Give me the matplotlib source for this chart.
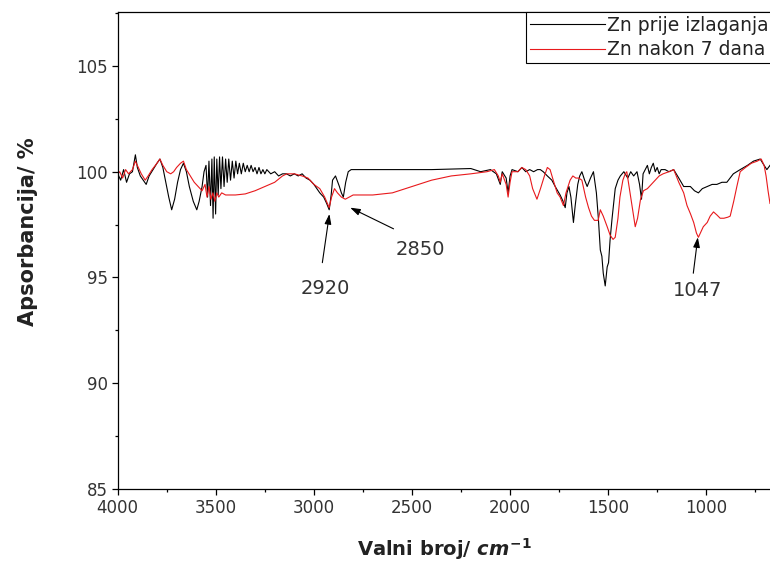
"""FTIR spectra of Zn before and after 7 days of exposure."""
import matplotlib
matplotlib.use("Agg")
import matplotlib.pyplot as plt
from matplotlib.ticker import MultipleLocator

plt.rcParams["font.family"] = ["DejaVu Sans"]
plt.rcParams["mathtext.fontset"] = "custom"
plt.rcParams["mathtext.rm"] = "DejaVu Sans:bold"
plt.rcParams["mathtext.it"] = "DejaVu Sans:italic:bold"

# Zn prije izlaganja (black)
wn_before = [
    4000, 3985, 3970, 3955, 3940, 3925, 3910, 3900, 3885, 3870, 3855, 3840,
    3820, 3800, 3785, 3770, 3755, 3740, 3725, 3710, 3695, 3680, 3665, 3650,
    3635, 3615, 3597, 3585, 3570, 3560, 3550, 3542, 3535, 3527, 3520, 3514,
    3508, 3501, 3495, 3488, 3481, 3474, 3466, 3458, 3450, 3442, 3434, 3425,
    3416, 3407, 3398, 3389, 3380, 3370, 3360, 3350, 3340, 3330, 3320, 3310,
    3300, 3290, 3280, 3270, 3260, 3250, 3240, 3220, 3200, 3180, 3160, 3140,
    3120, 3100, 3080, 3060, 3040, 3020, 3000, 2985, 2970, 2950, 2935, 2922,
    2912, 2905, 2890, 2870, 2860, 2850, 2838, 2825, 2810, 2600, 2400, 2200,
    2150, 2100, 2070, 2050, 2040, 2020, 2010, 2000, 1990, 1960, 1940, 1920,
    1900, 1880, 1860, 1846, 1831, 1810, 1787, 1770, 1745, 1730, 1719, 1710,
    1700, 1690, 1677, 1668, 1655, 1645, 1634, 1620, 1607, 1590, 1575, 1560,
    1550, 1540, 1532, 1525, 1515, 1505, 1498, 1490, 1480, 1464, 1450, 1438,
    1420, 1400, 1385, 1370, 1353, 1340, 1330, 1322, 1311, 1300, 1290, 1280,
    1270, 1260, 1250, 1240, 1230, 1210, 1190, 1166, 1140, 1115, 1081, 1060,
    1040, 1020, 995, 970, 946, 920, 895, 862, 827, 790, 759, 725, 705, 691,
    675,
]
ab_before = [
    99.9, 99.6, 100.1, 99.5, 99.9, 100.0, 100.8, 100.2, 99.8, 99.6, 99.4, 99.8,
    100.1, 100.4, 100.6, 100.2, 99.5, 98.8, 98.2, 98.7, 99.5, 100.1, 100.4, 100.0,
    99.3, 98.6, 98.2, 98.6, 99.3, 100.0, 100.3, 98.8, 100.5, 98.4, 100.6, 97.8,
    100.7, 98.0, 100.6, 98.9, 100.7, 99.2, 100.7, 99.3, 100.6, 99.5, 100.6, 99.6,
    100.5, 99.7, 100.5, 99.9, 100.4, 99.9, 100.4, 100.0, 100.3, 100.0, 100.3, 100.0,
    100.2, 99.9, 100.2, 99.9, 100.1, 99.9, 100.1, 99.9, 100.0, 99.8, 99.9, 99.9,
    99.8, 99.9, 99.8, 99.9, 99.7, 99.6, 99.4, 99.2, 99.0, 98.8, 98.5, 98.2,
    98.9, 99.6, 99.8, 99.3, 99.0, 98.8, 99.5, 100.0, 100.1, 100.1, 100.1, 100.15,
    100.0, 100.1, 99.9, 99.4, 100.0, 99.7, 99.0, 99.8, 100.1, 100.0, 100.2, 100.0,
    100.1, 100.0, 100.1, 100.1, 100.0, 99.8, 99.6, 99.3, 98.9, 98.6, 98.3, 99.0,
    99.3, 98.8, 97.6, 98.4, 99.4, 99.8, 100.0, 99.6, 99.3, 99.7, 100.0, 99.0,
    97.8, 96.3, 96.0, 95.2, 94.6, 95.5, 95.7, 96.8, 97.8, 99.2, 99.6, 99.8,
    100.0, 99.7, 100.0, 99.8, 100.0, 99.4, 98.7, 99.9, 100.1, 100.3, 99.9, 100.2,
    100.4, 100.0, 100.2, 99.9, 100.1, 100.1, 100.0, 100.1, 99.7, 99.3, 99.3, 99.1,
    99.0, 99.2, 99.3, 99.4, 99.4, 99.5, 99.5, 99.9, 100.1, 100.3, 100.5, 100.6, 100.3, 100.1,
    100.3,
]

# Zn nakon 7 dana (red)
wn_after = [
    4000, 3990, 3975, 3960, 3945, 3925, 3910, 3895, 3880, 3860, 3845, 3825,
    3800, 3785, 3770, 3750, 3730, 3715, 3700, 3680, 3665, 3650, 3630, 3610,
    3590, 3570, 3555, 3545, 3535, 3525, 3515, 3505, 3495, 3485, 3470, 3450,
    3400, 3350, 3300, 3250, 3200, 3160, 3138, 3100, 3060, 3030, 3000, 2970,
    2945, 2922, 2910, 2895, 2880, 2860, 2840, 2820, 2800, 2700, 2600, 2500,
    2400, 2300, 2200, 2118, 2080, 2060, 2050, 2040, 2020, 2010, 2000, 1990,
    1960, 1940, 1920, 1900, 1885, 1863, 1845, 1825, 1810, 1796, 1780, 1760,
    1745, 1728, 1715, 1694, 1680, 1665, 1650, 1634, 1615, 1600, 1585, 1570,
    1551, 1540, 1525, 1505, 1490, 1475, 1464, 1450, 1440, 1425, 1413, 1405,
    1395, 1380, 1362, 1350, 1335, 1320, 1300, 1280, 1260, 1240, 1220, 1190,
    1166, 1140, 1115, 1098, 1080, 1064, 1050, 1040, 1030, 1015, 995, 980,
    963, 945, 929, 910, 890, 878, 860, 844, 827, 800, 770, 740, 720, 705,
    695, 685, 675,
]
ab_after = [
    99.9, 100.0, 99.7, 100.1, 99.9, 100.1, 100.5, 100.2, 99.9, 99.6, 99.8, 100.1,
    100.4, 100.6, 100.3, 100.0, 99.9, 100.0, 100.2, 100.4, 100.5, 100.1, 99.8, 99.5,
    99.3, 99.1, 99.4, 98.8, 99.3, 98.7, 99.0, 98.6, 99.0, 98.8, 99.0, 98.9,
    98.9, 98.95, 99.1, 99.3, 99.5, 99.8, 99.9, 99.9, 99.8, 99.7, 99.4, 99.2,
    98.8, 98.3, 98.8, 99.2, 99.0, 98.8, 98.7, 98.8, 98.9, 98.9, 99.0, 99.3,
    99.6, 99.8, 99.9, 100.0, 100.1, 99.8, 99.5, 99.9, 99.4, 98.8, 99.5, 100.0,
    100.0, 100.2, 100.1, 99.8, 99.2, 98.7, 99.2, 99.8, 100.2, 100.1, 99.6, 99.0,
    98.8, 98.4, 99.0, 99.6, 99.8, 99.7, 99.7, 99.6, 98.8, 98.3, 97.9, 97.7,
    97.7, 98.2, 97.9, 97.4, 97.0, 96.8, 96.9, 97.8, 98.8, 99.6, 99.9, 100.0,
    99.4, 98.5, 97.4, 97.8, 98.7, 99.1, 99.2, 99.4, 99.6, 99.8, 99.9, 100.0,
    100.1, 99.5, 99.0, 98.4, 98.0, 97.6, 97.1, 96.9, 97.1, 97.4, 97.6, 97.9,
    98.1, 97.95, 97.8, 97.8, 97.85, 97.9, 98.6, 99.3, 100.0, 100.2, 100.4, 100.5, 100.6, 100.3,
    99.8, 99.1, 98.5,
]

# peak labels: text, arrow tip, arrow tail, text position
peaks = [
    ("2920", (2921, 98.0), (2957, 95.7), (2943, 94.5)),
    ("2850", (2815, 98.3), (2594, 97.3), (2459, 96.3)),
    ("1047", (1043, 96.9), (1066, 95.2), (1043, 94.4)),
]

fig = plt.figure(figsize=(7.7, 5.67), dpi=100)
ax = fig.add_axes([0.1529, 0.1376, 0.8471, 0.8412])

ax.plot(wn_before, ab_before, color="black", lw=0.8, label="Zn prije izlaganja")
ax.plot(wn_after, ab_after, color="#e8191c", lw=0.8, label="Zn nakon 7 dana")

ax.set_xlim(4000, 675)
ax.set_ylim(85, 107.55)
ax.xaxis.set_major_locator(MultipleLocator(500))
ax.xaxis.set_minor_locator(MultipleLocator(250))
ax.yaxis.set_major_locator(MultipleLocator(5))
ax.yaxis.set_minor_locator(MultipleLocator(2.5))
ax.tick_params(which="major", direction="out", length=4, width=0.9,
               labelsize=12, labelcolor="#333333", pad=3)
ax.tick_params(which="minor", direction="out", length=2.5, width=0.9)
ax.spines["right"].set_visible(False)
for side in ("left", "bottom", "top"):
    ax.spines[side].set_linewidth(0.9)

ax.set_ylabel("Apsorbancija/ %", fontsize=15, fontweight="bold",
              color="#222222", labelpad=12)
ax.yaxis.set_label_coords(-0.122, 0.54)
ax.set_xlabel(r"Valni broj/ $cm^{-1}$", fontsize=14, fontweight="bold",
              color="#222222", labelpad=14)

for label, tip, tail, pos in peaks:
    ax.annotate("", xy=tip, xytext=tail,
                arrowprops=dict(arrowstyle="-|>,head_length=0.6,head_width=0.2",
                                color="black", lw=0.8, shrinkA=0, shrinkB=0))
    ax.text(pos[0], pos[1], label, fontsize=14, color="#333333",
            ha="center", va="center")

leg = ax.legend(loc="upper right", bbox_to_anchor=(1.003, 1.0), fontsize=13.5,
                frameon=True, fancybox=False, framealpha=1, edgecolor="black",
                handlelength=4.0, handletextpad=0.1, borderpad=0.2,
                labelspacing=0.3, borderaxespad=0)
leg.get_frame().set_linewidth(0.8)
for text in leg.get_texts():
    text.set_color("#222222")

fig.savefig("out.png", dpi=100)
